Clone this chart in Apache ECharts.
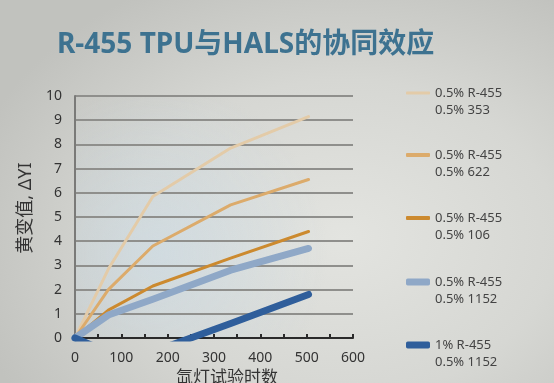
<!DOCTYPE html>
<html>
<head>
<meta charset="utf-8">
<script src="https://cdn.jsdelivr.net/npm/echarts@6/dist/echarts.min.js"></script>
<style>
html,body{margin:0;padding:0;}
#c{width:554px;height:383px;background:radial-gradient(ellipse 70% 75% at 62% 62%, #e3e4e0 0%, #d6d7d3 55%, #c1c2be 100%);}
</style>
</head>
<body>
<div id="c"></div>
<script>
var hours = [0, 72, 168, 336, 504];
var seriesNames = [
  '0.5% R-455\n0.5% 353',
  '0.5% R-455\n0.5% 622',
  '0.5% R-455\n0.5% 106',
  '0.5% R-455\n0.5% 1152',
  '1% R-455\n0.5% 1152'
];
var yi353 = [0, 2.85, 5.85, 7.85, 9.15];
var yi622 = [0, 2.0, 3.8, 5.5, 6.55];
var yi106 = [0, 1.15, 2.15, 3.3, 4.4];
var yi1152 = [0, 0.95, 1.6, 2.8, 3.7];
var yi1152b = [0, -0.6, -0.57, 0.6, 1.8];
var xTicks = [0, 100, 200, 300, 400, 500, 600];
var yTicks = [0, 1, 2, 3, 4, 5, 6, 7, 8, 9, 10];

var colors = ['#e3cba8', '#dcab6b', '#cc8a2f', '#8fa8c7', '#2f5e9b'];
var widths = [3, 3, 3, 7, 7];
var iconH = [3, 4, 4, 7, 7];
var legendTops = [93, 155, 218, 282, 345];
var allData = [yi353, yi622, yi106, yi1152, yi1152b];

function pairs(ys) { return hours.map(function (h, i) { return [h, ys[i]]; }); }

var FONT = '"Noto Sans", "Noto Sans CJK SC", sans-serif';

var legends = seriesNames.map(function (n, i) {
  return {
    data: [{ name: n, icon: 'roundRect', itemStyle: { color: colors[i] } }],
    left: 406, top: legendTops[i] - 25.5, padding: 0,
    itemWidth: 24, itemHeight: iconH[i],
    selectedMode: false,
    formatter: function (name) { return '\n' + name; },
    textStyle: { fontFamily: FONT, fontSize: 13, color: '#444', lineHeight: 17 }
  };
});

var chart = echarts.init(document.getElementById('c'), null, { renderer: 'canvas' });
chart.setOption({
  backgroundColor: 'transparent',
  animation: false,
  title: {
    text: 'R-455 TPU与HALS的协同效应',
    left: 57, top: 31, padding: 0,
    textStyle: { fontFamily: FONT, fontSize: 28, fontWeight: 'bold', color: '#3d7290' }
  },
  legend: legends,
  grid: {
    left: 75, right: 201, top: 96, bottom: 45, containLabel: false, outerBoundsMode: 'none',
    show: true, borderWidth: 0,
    backgroundColor: {
      type: 'radial', x: 0.3, y: 0.65, r: 0.7,
      colorStops: [{ offset: 0, color: 'rgba(200,222,238,0.45)' }, { offset: 1, color: 'rgba(200,222,238,0)' }]
    }
  },
  xAxis: {
    type: 'value', min: 0, max: 600, interval: 50,
    name: '氙灯试验时数', nameLocation: 'middle', nameGap: 27,
    nameTextStyle: { fontFamily: FONT, fontSize: 17, color: '#333', padding: [0, 0, 0, 26] },
    axisLine: { show: true, lineStyle: { color: '#2a2a2a', width: 2 } },
    axisTick: { show: true, inside: true, length: 4, lineStyle: { color: '#2a2a2a', width: 2 } },
    axisLabel: {
      fontFamily: FONT, fontSize: 14, color: '#333', margin: 13,
      formatter: function (v) { return xTicks.indexOf(v) >= 0 ? String(v) : ''; }
    },
    splitLine: { show: false }
  },
  yAxis: {
    type: 'value', min: 0, max: 10, interval: 1,
    name: '黄变值, ΔYI', nameLocation: 'middle', nameGap: 29,
    nameTextStyle: { fontFamily: FONT, fontSize: 18, color: '#333', padding: [0, 0, 0, 18] },
    axisLine: { show: true, lineStyle: { color: '#7a7a78', width: 2 } },
    axisTick: { show: false },
    axisLabel: {
      fontFamily: FONT, fontSize: 14, color: '#333', margin: 13,
      formatter: function (v) { return yTicks.indexOf(v) >= 0 ? String(v) : ''; }
    },
    splitLine: { show: true, lineStyle: { color: '#8f8f8c', width: 2 } }
  },
  series: seriesNames.map(function (n, i) {
    return {
      name: n, type: 'line', data: pairs(allData[i]),
      showSymbol: false, symbol: 'none', clip: true,
      lineStyle: { color: colors[i], width: widths[i], cap: 'round', join: 'round' },
      itemStyle: { color: colors[i] }
    };
  })
});
</script>
</body>
</html>
